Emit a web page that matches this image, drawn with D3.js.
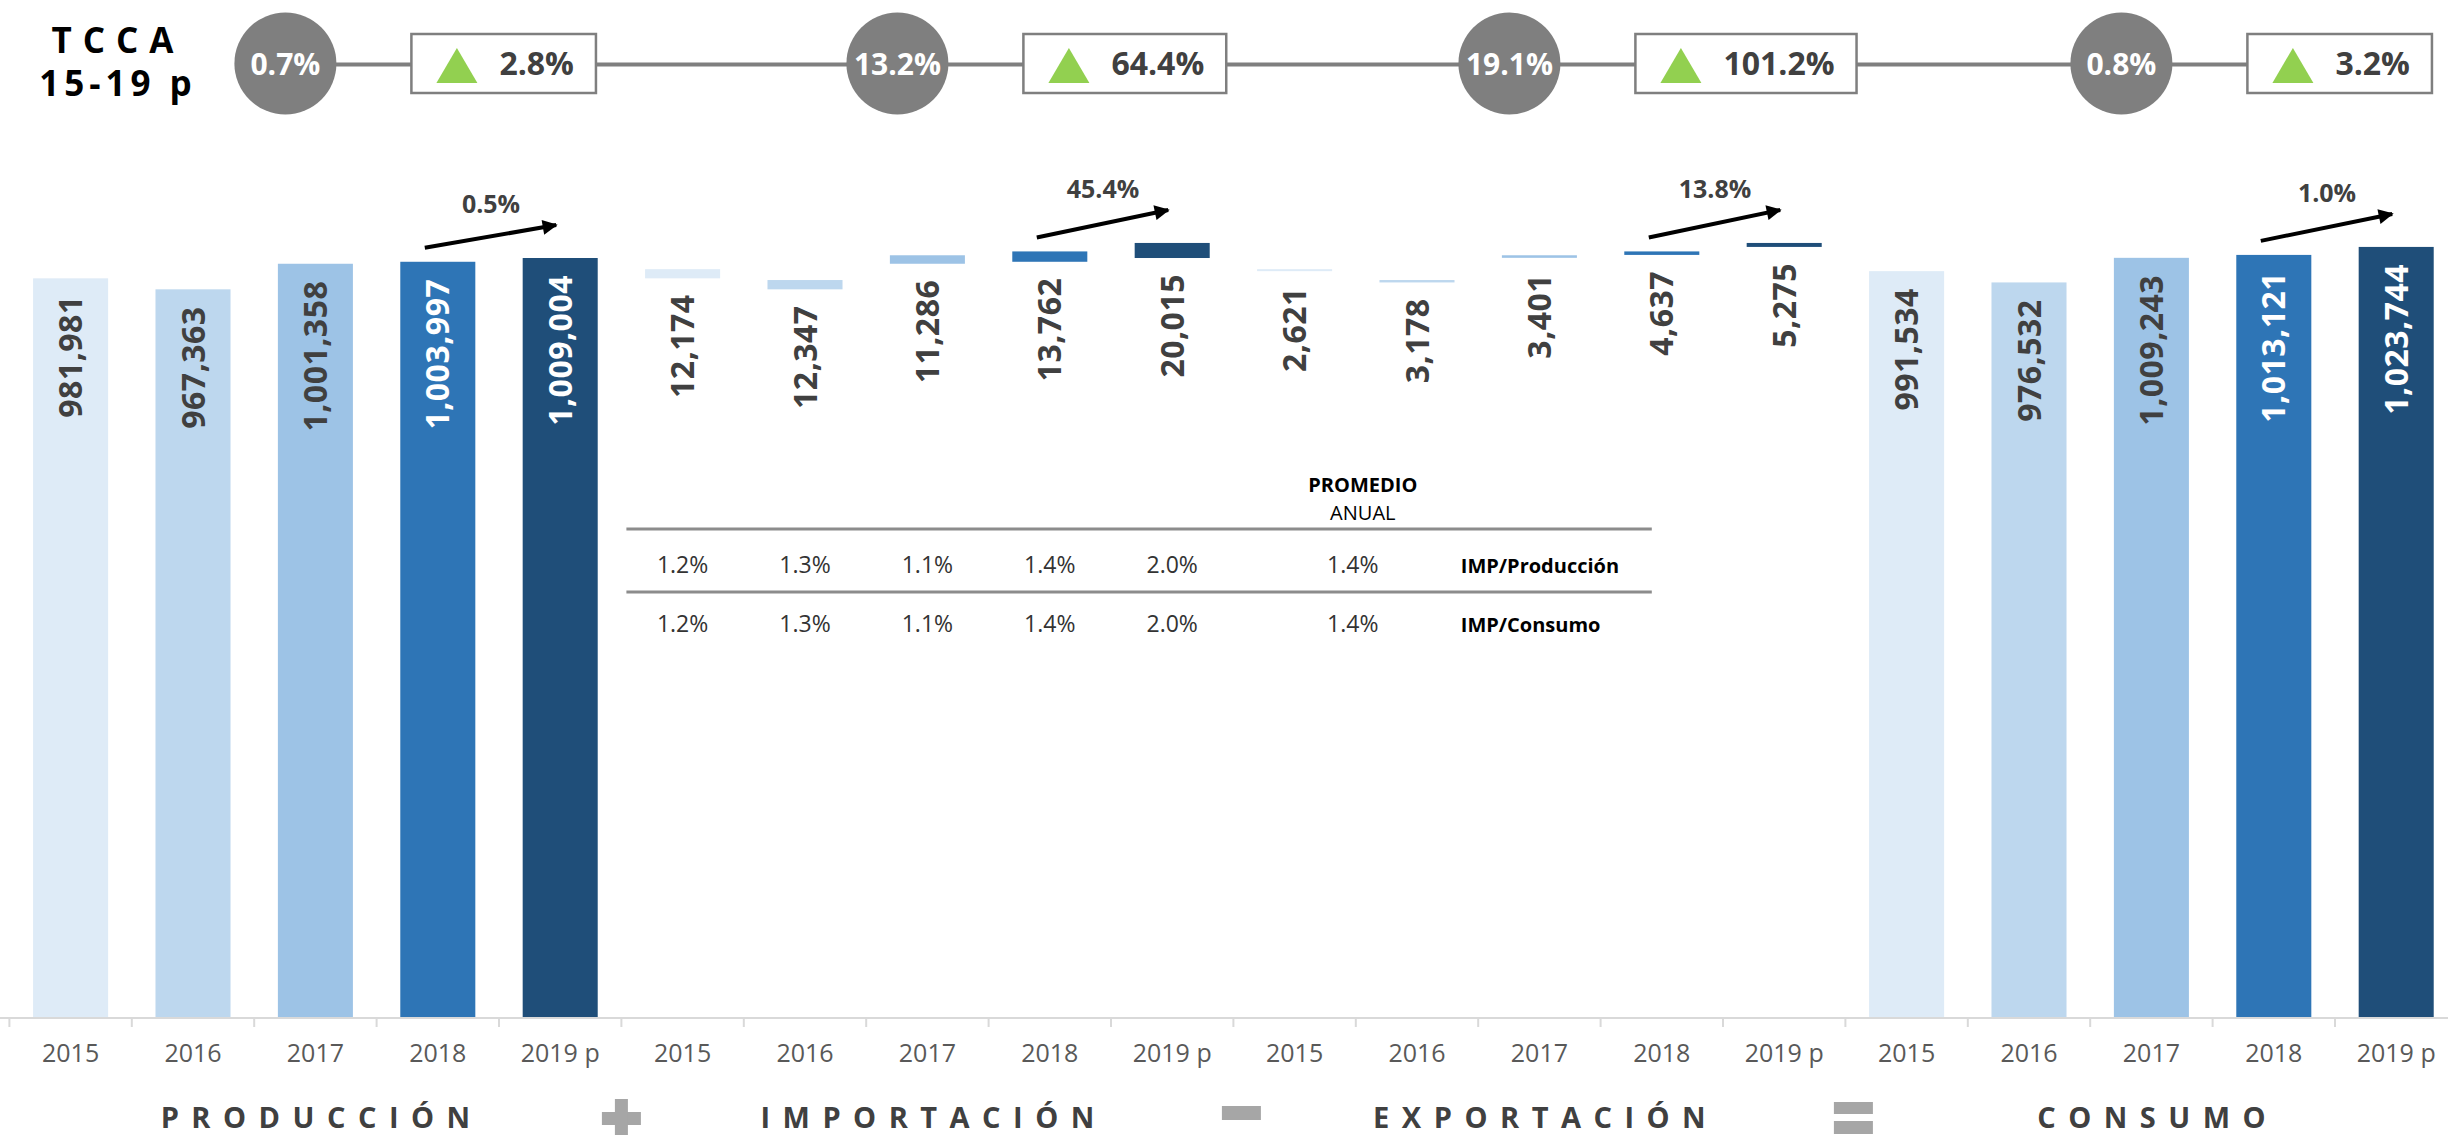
<!DOCTYPE html>
<html>
<head>
<meta charset="utf-8">
<script src="https://cdn.jsdelivr.net/npm/d3@7/dist/d3.min.js"></script>
<style>
  html, body { margin: 0; padding: 0; background: #ffffff; }
  svg { display: block; font-family: "Open Sans", "Noto Sans", sans-serif; }
</style>
</head>
<body>
<svg id="chart" width="2448" height="1135"></svg>
<script>
// ---------- DATA ----------
const years = ["2015", "2016", "2017", "2018", "2019 p"];
const groups = ["PRODUCCIÓN", "IMPORTACIÓN", "EXPORTACIÓN", "CONSUMO"];
const produccion = [981981, 967363, 1001358, 1003997, 1009004];
const importacion = [12174, 12347, 11286, 13762, 20015];
const exportacion = [2621, 3178, 3401, 4637, 5275];
const consumo = [991534, 976532, 1009243, 1013121, 1023744];
const tccaCircle = ["0.7%", "13.2%", "19.1%", "0.8%"];
const tccaBox = ["2.8%", "64.4%", "101.2%", "3.2%"];
const growth1819 = ["0.5%", "45.4%", "13.8%", "1.0%"];
const impProduccion = ["1.2%", "1.3%", "1.1%", "1.4%", "2.0%"];
const impProduccionAvg = "1.4%";
const impConsumo = ["1.2%", "1.3%", "1.1%", "1.4%", "2.0%"];
const impConsumoAvg = "1.4%";
const operators = ["+", "-", "="];

// ---------- STYLE ----------
const yearColors = ["#deebf7", "#bdd7ee", "#9dc3e6", "#2e75b6", "#1f4e79"];
const darkText = "#404040";
const W = 2448, H = 1135;

const svg = d3.select("#chart");

// ---------- BAR RECORDS (waterfall) ----------
const bars = [];
years.forEach((yr, i) => {
  const P = produccion[i], I = importacion[i], E = exportacion[i], C = consumo[i];
  bars.push({ g: 0, i, key: "0|" + yr, lo: 0, hi: P, val: P, kind: "full" });
  bars.push({ g: 1, i, key: "1|" + yr, lo: P, hi: P + I, val: I, kind: "float" });
  bars.push({ g: 2, i, key: "2|" + yr, lo: P + I - E, hi: P + I, val: E, kind: "float" });
  bars.push({ g: 3, i, key: "3|" + yr, lo: 0, hi: C, val: C, kind: "full" });
});
bars.sort((a, b) => a.g - b.g || a.i - b.i);

// ---------- SCALES ----------
const step = 122.4;
const x0 = 9.4;
const x = d3.scaleBand()
  .domain(bars.map(d => d.key))
  .range([x0, x0 + step * bars.length])
  .paddingInner(0.387)
  .paddingOuter(0.387 / 2);
const y = d3.scaleLinear().domain([0, 1352000]).range([1017, 0]);

const cx = key => x(key) + x.bandwidth() / 2;
const groupCenter = g => (x(g + "|" + years[0]) + x(g + "|" + years[4]) + x.bandwidth()) / 2;
const groupStart = g => x(g + "|" + years[0]) - (x.step() - x.bandwidth()) / 2;

// ---------- BARS ----------
svg.append("g").selectAll("rect").data(bars).join("rect")
  .attr("x", d => x(d.key))
  .attr("width", x.bandwidth())
  .attr("y", d => y(d.hi))
  .attr("height", d => Math.max(1.5, y(d.lo) - y(d.hi)))
  .attr("fill", d => yearColors[d.i]);

// ---------- BAR LABELS ----------
const fmt = d3.format(",");
svg.append("g").selectAll("text").data(bars).join("text")
  .attr("transform", d => {
    const yy = d.kind === "full" ? y(d.hi) + 17 : y(d.lo) + 16;
    return `translate(${cx(d.key)},${yy}) rotate(-90)`;
  })
  .attr("text-anchor", "end")
  .attr("dy", "0.36em")
  .attr("font-size", 32)
  .attr("font-weight", 700)
  .attr("letter-spacing", 0.5)
  .attr("fill", d => (d.kind === "full" && d.i >= 3) ? "#ffffff" : darkText)
  .text(d => fmt(d.val));

// ---------- X AXIS ----------
const axisY = y(0);
const axisG = svg.append("g");
axisG.append("line")
  .attr("x1", 0).attr("x2", W)
  .attr("y1", axisY + 1).attr("y2", axisY + 1)
  .attr("stroke", "#d9d9d9").attr("stroke-width", 2);
const tickXs = d3.range(bars.length + 1).map(k => x0 + k * x.step());
axisG.selectAll("line.tick").data(tickXs).join("line")
  .attr("class", "tick")
  .attr("x1", d => d).attr("x2", d => d)
  .attr("y1", axisY + 1).attr("y2", axisY + 10)
  .attr("stroke", "#d9d9d9").attr("stroke-width", 2);
axisG.selectAll("text").data(bars).join("text")
  .attr("x", d => cx(d.key))
  .attr("y", axisY + 45)
  .attr("text-anchor", "middle")
  .attr("font-size", 25)
  .attr("fill", "#595959")
  .text(d => years[d.i]);

// ---------- GROUP TITLES ----------
const ls = 12.5;
svg.append("g").selectAll("text").data(groups).join("text")
  .attr("x", (d, g) => groupCenter(g) + ls / 2)
  .attr("y", 1128)
  .attr("text-anchor", "middle")
  .attr("font-size", 29)
  .attr("font-weight", 700)
  .attr("letter-spacing", ls)
  .attr("fill", darkText)
  .text(d => d);

// ---------- OPERATORS ----------
const opG = svg.append("g").attr("fill", "#a6a6a6");
operators.forEach((op, k) => {
  const bx = groupStart(k + 1) + (k === 0 ? 0 : 8);
  if (op === "+") {
    opG.append("rect").attr("x", bx - 19.5).attr("y", 1112).attr("width", 39).attr("height", 13);
    opG.append("rect").attr("x", bx - 6.5).attr("y", 1099).attr("width", 13).attr("height", 40);
  } else if (op === "-") {
    opG.append("rect").attr("x", bx - 19.5).attr("y", 1106).attr("width", 39).attr("height", 14);
  } else {
    opG.append("rect").attr("x", bx - 19.5).attr("y", 1102).attr("width", 39).attr("height", 12);
    opG.append("rect").attr("x", bx - 19.5).attr("y", 1121).attr("width", 39).attr("height", 13);
  }
});

// ---------- GROWTH ARROWS 2018 -> 2019 ----------
svg.append("defs").append("marker")
  .attr("id", "ah")
  .attr("viewBox", "0 0 10 10")
  .attr("refX", 9).attr("refY", 5)
  .attr("markerWidth", 17).attr("markerHeight", 15)
  .attr("markerUnits", "userSpaceOnUse")
  .attr("orient", "auto")
  .append("path").attr("d", "M0,0 L10,5 L0,10 Z").attr("fill", "#000");

const topOf = (g, i) => bars.find(b => b.g === g && b.i === i).hi;
const arrG = svg.append("g");
growth1819.forEach((lab, g) => {
  const k18 = g + "|" + years[3], k19 = g + "|" + years[4];
  const xs = cx(k18) - 13, ys = y(topOf(g, 3)) - 14;
  const xe = cx(k19) - 4, ye = y(topOf(g, 4)) - 33;
  arrG.append("line")
    .attr("x1", xs).attr("y1", ys).attr("x2", xe).attr("y2", ye)
    .attr("stroke", "#000").attr("stroke-width", 4)
    .attr("marker-end", "url(#ah)");
  arrG.append("text")
    .attr("x", (cx(k18) + cx(k19)) / 2 - 8)
    .attr("y", ye - 12)
    .attr("text-anchor", "middle")
    .attr("font-size", 25)
    .attr("font-weight", 700)
    .attr("fill", darkText)
    .text(lab);
});

// ---------- TCCA HEADER ----------
const head = svg.append("g");
const lineY = 64.5;
const circleX = g => groupCenter(g) - 30;
const boxLeft = g => circleX(g) + 126;

const connector = head.append("line")
  .attr("x1", circleX(0)).attr("y1", lineY).attr("y2", lineY)
  .attr("stroke", "#7f7f7f").attr("stroke-width", 4);

head.append("text").attr("x", 118).attr("y", 53).attr("text-anchor", "middle")
  .attr("font-size", 35).attr("font-weight", 700).attr("letter-spacing", 11)
  .attr("fill", "#000").text("TCCA");
head.append("text").attr("x", 118).attr("y", 96).attr("text-anchor", "middle")
  .attr("font-size", 35).attr("font-weight", 700).attr("letter-spacing", 5)
  .attr("fill", "#000").text("15-19 p");

const boxRects = [], boxTexts = [];
tccaCircle.forEach((lab, g) => {
  head.append("circle").attr("cx", circleX(g)).attr("cy", lineY - 1).attr("r", 51)
    .attr("fill", "#7f7f7f");
  head.append("text").attr("x", circleX(g)).attr("y", lineY + 10)
    .attr("text-anchor", "middle").attr("font-size", 30).attr("font-weight", 700)
    .attr("fill", "#ffffff").text(lab);

  const bl = boxLeft(g);
  const rect = head.append("rect").attr("x", bl).attr("y", 34).attr("height", 59)
    .attr("fill", "#ffffff").attr("stroke", "#7f7f7f").attr("stroke-width", 2.5);
  head.append("path")
    .attr("d", `M${bl + 25},83 L${bl + 45.5},48 L${bl + 66},83 Z`)
    .attr("fill", "#92d050");
  const t = head.append("text").attr("x", bl + 88).attr("y", 75)
    .attr("font-size", 32).attr("font-weight", 700).attr("fill", darkText).text(tccaBox[g]);
  boxRects.push({ rect, bl });
  boxTexts.push(t);
});

function sizeBoxes() {
  let lastCenter = 0;
  boxRects.forEach((b, g) => {
    let tw = boxTexts[g].node().getBBox().width;
    const est = tccaBox[g].length * 18.5;
    if (!(tw > 0)) tw = est;
    const bw = 88 + tw + 22;
    b.rect.attr("width", bw);
    lastCenter = b.bl + bw / 2;
  });
  connector.attr("x2", lastCenter);
}
sizeBoxes();
if (document.fonts && document.fonts.ready) document.fonts.ready.then(sizeBoxes);
setTimeout(sizeBoxes, 50);

// ---------- IMP TABLE ----------
const tbl = svg.append("g");
const tLeft = groupStart(1) + 5;
const avgX = groupStart(2) + x.step();
const tRight = avgX + 296;
const impCols = years.map(yr => cx("1|" + yr));

tbl.append("text").attr("x", avgX + 7).attr("y", 492).attr("text-anchor", "middle")
  .attr("font-size", 20).attr("font-weight", 700).attr("fill", "#000").text("PROMEDIO");
tbl.append("text").attr("x", avgX + 7).attr("y", 520).attr("text-anchor", "middle")
  .attr("font-size", 20).attr("font-weight", 400).attr("fill", "#000").text("ANUAL");

[529, 592].forEach(ly => {
  tbl.append("line").attr("x1", tLeft).attr("x2", tRight).attr("y1", ly).attr("y2", ly)
    .attr("stroke", "#8c8c8c").attr("stroke-width", 3);
});

const rows = [
  { vals: impProduccion, avg: impProduccionAvg, label: "IMP/Producción", yb: 573 },
  { vals: impConsumo, avg: impConsumoAvg, label: "IMP/Consumo", yb: 632 }
];
rows.forEach(r => {
  tbl.selectAll(null).data(r.vals).join("text")
    .attr("x", (d, i) => impCols[i]).attr("y", r.yb)
    .attr("text-anchor", "middle").attr("font-size", 23).attr("font-weight", 400)
    .attr("fill", "#333333").text(d => d);
  tbl.append("text").attr("x", avgX - 3).attr("y", r.yb).attr("text-anchor", "middle")
    .attr("font-size", 23).attr("font-weight", 400).attr("fill", "#333333").text(r.avg);
  tbl.append("text").attr("x", avgX + 105).attr("y", r.yb)
    .attr("font-size", 20).attr("font-weight", 700).attr("fill", "#000").text(r.label);
});
</script>
</body>
</html>
